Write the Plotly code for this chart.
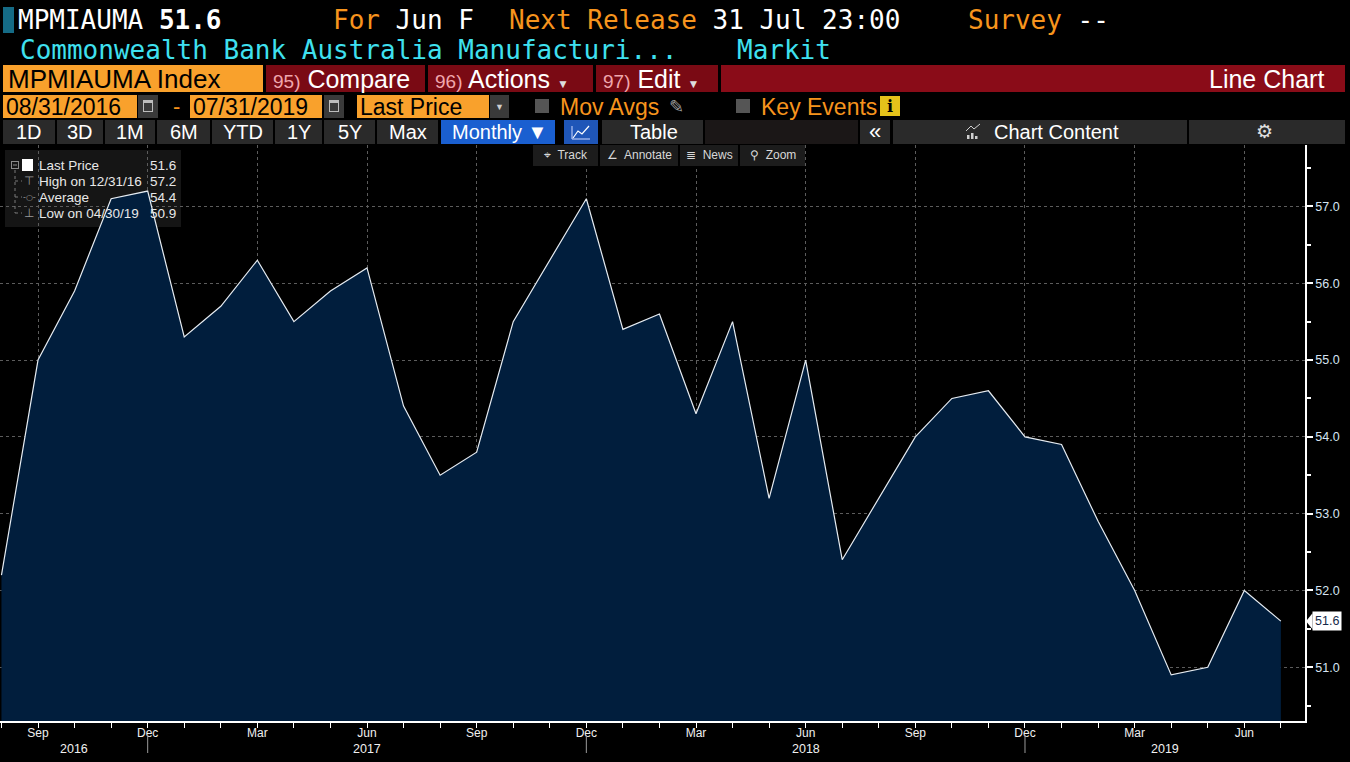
import pandas as pd
import plotly.graph_objects as go

# ---------------- data ----------------
months = ["2016-08", "2016-09", "2016-10", "2016-11", "2016-12",
          "2017-01", "2017-02", "2017-03", "2017-04", "2017-05", "2017-06",
          "2017-07", "2017-08", "2017-09", "2017-10", "2017-11", "2017-12",
          "2018-01", "2018-02", "2018-03", "2018-04", "2018-05", "2018-06",
          "2018-07", "2018-08", "2018-09", "2018-10", "2018-11", "2018-12",
          "2019-01", "2019-02", "2019-03", "2019-04", "2019-05", "2019-06",
          "2019-07"]
values = [52.2, 55.0, 55.9, 57.1, 57.2,
          55.3, 55.7, 56.3, 55.5, 55.9, 56.2,
          54.4, 53.5, 53.8, 55.5, 56.3, 57.1,
          55.4, 55.6, 54.3, 55.5, 53.2, 55.0,
          52.4, 53.2, 54.0, 54.5, 54.6, 54.0,
          53.9, 52.9, 52.0, 50.9, 51.0, 52.0,
          51.6]
y_ticks = [51.0, 52.0, 53.0, 54.0, 55.0, 56.0, 57.0]
quarter_months = ["Mar", "Jun", "Sep", "Dec"]

periods = [pd.Period(m, freq="M") for m in months]
idx = list(range(len(months)))
tick_idx = [i for i, p in enumerate(periods) if p.strftime("%b") in quarter_months]
tick_txt = [periods[i].strftime("%b") for i in tick_idx]

last_v = values[-1]
hi_i = max(idx, key=lambda i: values[i])
lo_i = min(idx, key=lambda i: values[i])
avg_v = sum(values) / len(values)
hi_date = periods[hi_i].end_time.strftime("%m/%d/%y")
lo_date = periods[lo_i].end_time.strftime("%m/%d/%y")

# ---------------- geometry helpers ----------------
W, H = 1350, 762
L, R, T, B = 0, 1305, 145, 721
X_RANGE = [-0.04, 35.66]
Y_RANGE = [50.30, 57.80]


def X(p):
    return (p - L) / (R - L)


def Y(p):
    return (B - p) / (B - T)


shapes = []
annotations = []

MONO = "DejaVu Sans Mono, Liberation Mono, monospace"
NARROW = "Liberation Sans Narrow, Arial Narrow, Liberation Sans, sans-serif"
SANS = "Liberation Sans, Arial, sans-serif"
ORANGE = "#f7941d"
BOX_OR = "#f9a12c"
RED = "#8a0c18"
BTN_RED = "#7a0a14"
DARK = "#2a2a2a"


def rect(x0, y0, x1, y1, fill, layer="above"):
    shapes.append(dict(type="rect", xref="paper", yref="paper",
                       x0=X(x0), x1=X(x1), y0=Y(y1), y1=Y(y0),
                       fillcolor=fill, line=dict(width=0), layer=layer))


def text(x, y, s, size, color, family, anchor="left"):
    annotations.append(dict(xref="paper", yref="paper", x=X(x), y=Y(y),
                            text=s, showarrow=False, xanchor=anchor,
                            yanchor="middle", borderpad=0,
                            font=dict(size=size, color=color, family=family)))


def oc(s):
    return f"<span style='color:{ORANGE}'>{s}</span>"


# ---------------- header row 1 & 2 ----------------
rect(3, 7, 14, 33, "#156b86")
text(17, 20, "MPMIAUMA <b>51.6</b>", 26, "white", MONO)
text(332, 20, oc("For") + " Jun F", 26, "white", MONO)
text(508, 20, oc("Next Release") + " 31 Jul 23:00", 26, "white", MONO)
text(967, 20, oc("Survey") + " --", 26, "white", MONO)
text(19, 50, "Commonwealth Bank Australia Manufacturi...", 26, "#3fe0ef", MONO)
text(736, 50, "Markit", 26, "#3fe0ef", MONO)

# ---------------- header row 3 ----------------
rect(3, 65, 263, 92, BOX_OR)
text(7, 78.5, "MPMIAUMA Index", 26, "black", NARROW)
rect(266, 65, 425, 92, BTN_RED)
rect(428, 65, 593, 92, BTN_RED)
rect(596, 65, 718, 92, BTN_RED)
rect(721, 65, 1345, 92, RED)
pk = "<span style='color:#f0a7ad;font-size:19px'>%s</span>"
text(272, 78.5, pk % "95)" + " Compare", 25, "white", NARROW)
text(434, 78.5, pk % "96)" + " Actions <span style='font-size:12px;color:#ddd'>▼</span>", 25, "white", NARROW)
text(602, 78.5, pk % "97)" + " Edit <span style='font-size:12px;color:#ddd'>▼</span>", 25, "white", NARROW)
text(1325, 78.5, "Line Chart", 25, "white", NARROW, anchor="right")

# ---------------- header row 4 ----------------
rect(3, 95, 137, 118, BOX_OR)
text(5, 106.5, "08/31/2016", 23, "black", NARROW)
rect(138, 95, 158, 118, "#3a3a3a")
rect(143, 100, 153, 112, "#bdbdbd")
rect(144, 103, 152, 111, "#3a3a3a")
text(172, 106.5, "-", 22, ORANGE, NARROW)
rect(190, 95, 322, 118, BOX_OR)
text(192, 106.5, "07/31/2019", 23, "black", NARROW)
rect(324, 95, 344, 118, "#3a3a3a")
rect(329, 100, 339, 112, "#bdbdbd")
rect(330, 103, 338, 111, "#3a3a3a")
rect(357, 95, 489, 118, BOX_OR)
text(359, 106.5, "Last Price", 23, "black", NARROW)
rect(490, 95, 509, 118, "#3a3a3a")
text(499.5, 106.5, "▼", 9, "#cfcfcf", SANS, anchor="center")
rect(535, 99, 549, 113, "#555555")
text(559, 106.5, "Mov Avgs", 23, ORANGE, NARROW)
text(668, 106.5, "✎", 18, "#9a9a9a", "DejaVu Sans")
rect(736, 99, 750, 113, "#555555")
text(760, 106.5, "Key Events", 23, ORANGE, NARROW)
rect(880, 96, 900, 116, "#e5c21a")
text(890, 106.5, "<b>i</b>", 16, "black", "DejaVu Serif", anchor="center")

# ---------------- header row 5 ----------------
buttons = [("1D", 3, 55), ("3D", 57, 103), ("1M", 105, 155), ("6M", 157, 210),
           ("YTD", 212, 273), ("1Y", 275, 322), ("5Y", 324, 375), ("Max", 377, 438)]
for lab, a, b in buttons:
    rect(a, 120, b, 144, DARK)
    text((a + b) / 2, 132, lab, 20, "white", NARROW, anchor="center")
rect(441, 120, 555, 144, "#1a5fd0")
text(499, 132, "Monthly ▼", 20, "white", NARROW, anchor="center")
rect(564, 120, 598, 144, "#1f56b8")
shapes.append(dict(type="path", xref="paper", yref="paper",
                   path=f"M {X(573)},{Y(138)} L {X(578)},{Y(131)} L {X(582)},{Y(134)} L {X(589)},{Y(126)}",
                   line=dict(color="white", width=1.2)))
shapes.append(dict(type="path", xref="paper", yref="paper",
                   path=f"M {X(572)},{Y(126)} L {X(572)},{Y(139)} L {X(590)},{Y(139)}",
                   line=dict(color="#cfd8ff", width=1)))
rect(602, 120, 703, 144, DARK)
text(654, 132, "Table", 20, "white", NARROW, anchor="center")
rect(705, 120, 858, 144, "#1b1717")
rect(860, 120, 890, 144, DARK)
text(875, 131, "«", 22, "white", SANS, anchor="center")
rect(893, 120, 1187, 144, DARK)
# small "chart content" icon
for bx, bh in [(967, 4), (971, 6), (975, 3)]:
    rect(bx, 139 - bh, bx + 2.5, 139, "#d0d0d0")
shapes.append(dict(type="path", xref="paper", yref="paper",
                   path=f"M {X(966)},{Y(131)} L {X(971)},{Y(126)} L {X(974)},{Y(129)} L {X(980)},{Y(124)}",
                   line=dict(color="#d0d0d0", width=1)))
text(993, 132, "Chart Content", 20, "white", NARROW)
rect(1189, 120, 1345, 144, DARK)
text(1264, 131, "⚙", 19, "#e0e0e0", "DejaVu Sans", anchor="center")

# ---------------- in-chart toolbar ----------------
for lab, a, b in [("⌖  Track", 533, 598), ("∠  Annotate", 600, 678),
                  ("≣  News", 680, 738), ("⚲  Zoom", 740, 805)]:
    rect(a, 145, b, 166, "#1c1c1c")
    text((a + b) / 2, 155.5, lab, 12, "#d8d8d8", SANS, anchor="center")

# ---------------- stats legend box ----------------
shapes.append(dict(type="rect", xref="paper", yref="paper",
                   x0=X(5), x1=X(181), y0=Y(227), y1=Y(150),
                   fillcolor="#151515", line=dict(width=0), layer="between"))
rows_y = [165, 181, 197, 213]
labels = ["Last Price", f"High on {hi_date}", "Average", f"Low on {lo_date}"]
vals = [last_v, values[hi_i], avg_v, values[lo_i]]
for ry, lab, v in zip(rows_y, labels, vals):
    text(38, ry, lab, 13.5, "#e8e8e8", SANS)
    text(149, ry, f"{v:.1f}", 13.5, "#e8e8e8", SANS)
# tree decorations
rect(11, 161, 19, 169, "#8a8a8a")
rect(12, 162, 18, 168, "#151515")
rect(13, 164.5, 17, 165.5, "#8a8a8a")
rect(22, 159, 33, 171, "white")
shapes.append(dict(type="line", xref="paper", yref="paper", x0=X(15), x1=X(15), y0=Y(170), y1=Y(213),
                   line=dict(color="#7a7a7a", width=1, dash="dot")))
for ry in rows_y[1:]:
    shapes.append(dict(type="line", xref="paper", yref="paper", x0=X(15), x1=X(22), y0=Y(ry), y1=Y(ry),
                       line=dict(color="#7a7a7a", width=1, dash="dot")))
text(29, 181, "⊤", 12, "#9a9a9a", "DejaVu Sans", anchor="center")
text(29, 197, "-○-", 8, "#9a9a9a", "DejaVu Sans", anchor="center")
text(29, 213, "⊥", 12, "#9a9a9a", "DejaVu Sans", anchor="center")

# ---------------- year labels & separators ----------------
years = sorted(set(p.year for p in periods))
dec_idx = [i for i, p in enumerate(periods) if p.month == 12]
for yr in years:
    starts = [i for i in dec_idx if periods[i].year == yr - 1]
    ends = [i for i in dec_idx if periods[i].year == yr]
    a = starts[0] if starts else X_RANGE[0]
    b = ends[0] if ends else X_RANGE[1]
    annotations.append(dict(xref="x", yref="paper", x=(a + b) / 2, y=Y(749), text=str(yr),
                            showarrow=False, xanchor="center", yanchor="middle",
                            font=dict(size=12.5, color="#f0f0f0", family=SANS)))
for i in dec_idx:
    shapes.append(dict(type="line", xref="x", yref="paper", x0=i, x1=i, y0=Y(735), y1=Y(753),
                       line=dict(color="#9a9a9a", width=1)))

# ---------------- last price tag ----------------
annotations.append(dict(xref="paper", yref="y", x=X(1312), y=last_v, text=f"{last_v:.1f}",
                        showarrow=False, xanchor="left", yanchor="middle",
                        bgcolor="white", borderpad=2,
                        font=dict(size=12.5, color="#15294a", family=SANS)))
d = 8 / 76.7
shapes.append(dict(type="path", xref="paper", yref="y",
                   path=f"M {X(1306)},{last_v} L {X(1312.5)},{last_v + d} L {X(1312.5)},{last_v - d} Z",
                   fillcolor="white", line=dict(width=0)))

# ---------------- figure ----------------
fig = go.Figure()
fig.add_trace(go.Scatter(x=idx, y=values, mode="lines",
                         line=dict(color="#e6ecf2", width=1.2),
                         fill="tozeroy", fillcolor="#011e3d",
                         hoverinfo="skip", showlegend=False))

grid = dict(showgrid=True, gridcolor="#5c5c5c", griddash="dot", gridwidth=1)
fig.update_layout(
    width=W, height=H,
    paper_bgcolor="black", plot_bgcolor="black",
    margin=dict(l=L, r=W - R, t=T, b=H - B),
    showlegend=False,
    shapes=shapes, annotations=annotations,
    xaxis=dict(range=X_RANGE, tickmode="array", tickvals=tick_idx, ticktext=tick_txt,
               ticks="", ticklabelstandoff=0,
               showline=True, linecolor="white", linewidth=1.5, zeroline=False,
               tickfont=dict(size=12, color="#f0f0f0", family=SANS),
               minor=dict(tickmode="array", tickvals=idx, ticks="outside", ticklen=5,
                          tickcolor="white", showgrid=False),
               fixedrange=True, **grid),
    yaxis=dict(range=Y_RANGE, side="right", tickmode="array", tickvals=y_ticks,
               ticktext=[f"{v:.1f}" for v in y_ticks],
               ticks="outside", ticklen=6, tickcolor="white", tickwidth=2,
               showline=True, linecolor="white", linewidth=1.5, zeroline=False,
               tickfont=dict(size=12.5, color="#d6e4f2", family=SANS),
               minor=dict(dtick=0.5, tick0=50.5, ticks="outside", ticklen=4,
                          tickcolor="white", showgrid=False),
               fixedrange=True, **grid),
)

fig.write_html("out.html", post_script="document.body.style.margin='0';",
               config={"displayModeBar": False})
